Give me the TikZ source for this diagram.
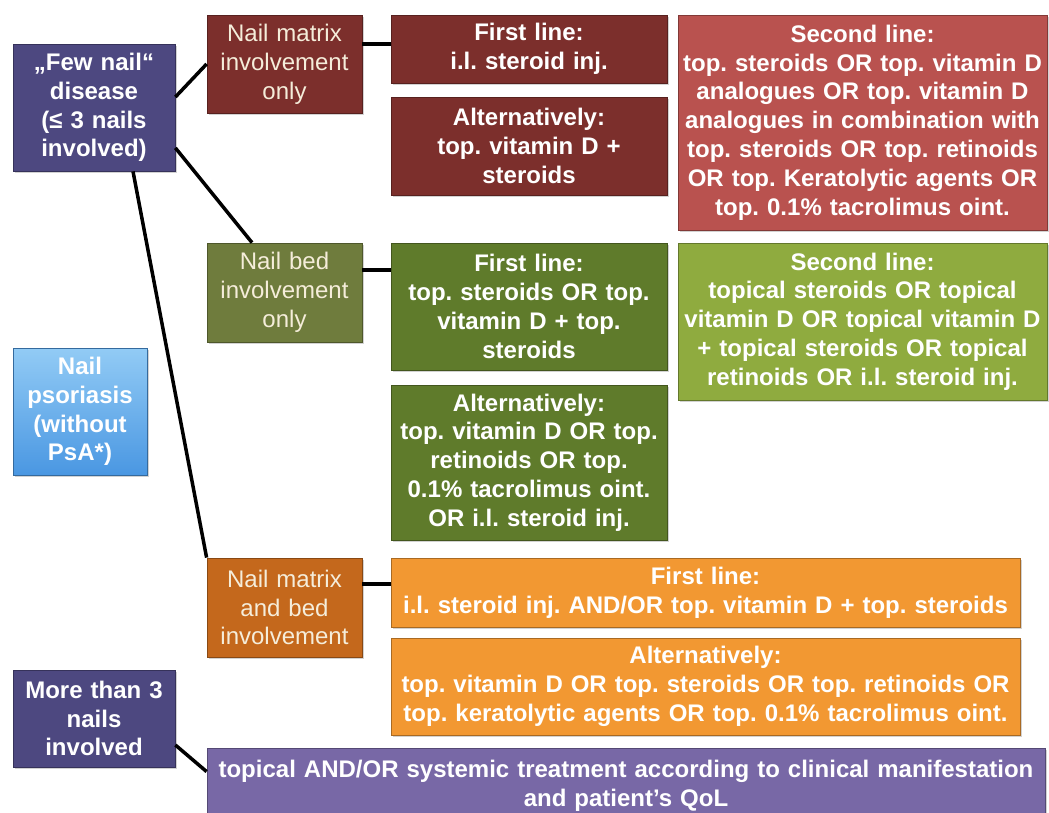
\documentclass[tikz,border=0pt]{standalone}
\usepackage{fontspec}
\setmainfont{Liberation Sans}
\frenchspacing
\usetikzlibrary{shadows}
\definecolor{cPurple}{HTML}{4D4880}
\definecolor{cTopical}{HTML}{7868A6}
\definecolor{cRedDark}{HTML}{7C2F2C}
\definecolor{cRedLight}{HTML}{B9524F}
\definecolor{cOlive}{HTML}{6F7C3D}
\definecolor{cGreenDark}{HTML}{5F7B2B}
\definecolor{cGreenLight}{HTML}{8FAB3F}
\definecolor{cBlueTop}{HTML}{92CBF5}
\definecolor{cBlueBot}{HTML}{4A97E2}
\definecolor{cOrangeDark}{HTML}{C4681C}
\definecolor{cOrange}{HTML}{F29832}
\definecolor{cCream}{HTML}{F5EDDA}
\begin{document}
\begin{tikzpicture}[x=1pt,y=-1pt,
  basebox/.style={rectangle, line width=0.8pt, align=center, inner xsep=2pt, inner ysep=2pt,
    drop shadow={opacity=0.35,shadow xshift=2pt,shadow yshift=-2pt}},
  box/.style={basebox, draw=#1!70!black, fill=#1, text=white,
    font=\fontsize{24}{28.8}\selectfont\bfseries},
  cat/.style={basebox, draw=#1!70!black, fill=#1, text=cCream,
    font=\fontsize{24}{28.8}\selectfont},
  conn/.style={line width=3.5pt, black}]
\path[use as bounding box, clip] (0,0) rectangle (1049,812);
\fill[white] (0,0) rectangle (1049,812);

% left column
\node[box=cPurple, minimum width=162pt, text width=158pt, minimum height=127pt] (few) at (94,107.5)
  {„Few nail“\\disease\\(≤ 3 nails\\involved)};
\node[basebox, draw=cBlueBot!70!black, top color=cBlueTop, bottom color=cBlueBot, text=white,
  font=\fontsize{24}{28.8}\selectfont\bfseries,
  minimum width=134pt, text width=130pt, minimum height=127pt] (psor) at (80,411.5)
  {Nail\\psoriasis\\(without\\PsA*)};
\node[box=cPurple, minimum width=162pt, text width=158pt, minimum height=97pt] (more) at (94,718.5)
  {More than 3\\nails\\involved};

% categories
\node[cat=cRedDark, minimum width=155pt, text width=151pt, minimum height=98pt] (matrix) at (284.5,64)
  {Nail matrix\\involvement\\only};
\node[cat=cOlive, minimum width=155pt, text width=151pt, minimum height=99pt] (bed) at (284.5,292.5)
  {Nail bed\\involvement\\only};
\node[cat=cOrangeDark, minimum width=155pt, text width=151pt, minimum height=99pt] (mb) at (284.5,607.5)
  {Nail matrix\\and bed\\involvement};

% red group
\node[box=cRedDark, minimum width=276pt, text width=272pt, minimum height=68pt] (fl1) at (529,49)
  {First line:\\i.l. steroid inj.};
\node[box=cRedDark, minimum width=276pt, text width=272pt, minimum height=98pt] (alt1) at (529,146)
  {Alternatively:\\top. vitamin D +\\steroids};
\node[box=cRedLight, minimum width=369pt, text width=365pt, minimum height=215pt] (sl1) at (862.5,122.5)
  {Second line:\\top. steroids OR top. vitamin D\\analogues OR top. vitamin D\\analogues in combination with\\top. steroids OR top. retinoids\\OR top. Keratolytic agents OR\\top. 0.1\% tacrolimus oint.};

% green group
\node[box=cGreenDark, minimum width=276pt, text width=272pt, minimum height=127pt] (fl2) at (529,306.5)
  {First line:\\top. steroids OR top.\\vitamin D + top.\\steroids};
\node[box=cGreenLight, minimum width=369pt, text width=365pt, minimum height=157pt] (sl2) at (862.5,321.5)
  {Second line:\\topical steroids OR topical\\vitamin D OR topical vitamin D\\+ topical steroids OR topical\\retinoids OR i.l. steroid inj.};
\node[box=cGreenDark, minimum width=276pt, text width=272pt, minimum height=155pt] (alt2) at (529,462.5)
  {Alternatively:\\top. vitamin D OR top.\\retinoids OR top.\\0.1\% tacrolimus oint.\\OR i.l. steroid inj.};

% orange group
\node[box=cOrange, minimum width=629pt, text width=625pt, minimum height=69pt] (fl3) at (705.5,592.5)
  {First line:\\i.l. steroid inj. AND/OR top. vitamin D + top. steroids};
\node[box=cOrange, minimum width=629pt, text width=625pt, minimum height=97pt] (alt3) at (705.5,686.5)
  {Alternatively:\\top. vitamin D OR top. steroids OR top. retinoids OR\\top. keratolytic agents OR top. 0.1\% tacrolimus oint.};

% bottom
\node[box=cTopical, minimum width=838pt, text width=834pt, minimum height=76pt] (topical) at (626,786)
  {topical AND/OR systemic treatment according to clinical manifestation\\and patient's QoL};

% connectors
\draw[conn] ([yshift=10.5pt]few.east) -- (matrix.west);
\draw[conn] ([yshift=23.5pt]few.south east) -- ([xshift=-32.5pt]bed.north);
\draw[conn] ([xshift=39pt]few.south) -- (mb.north west);
\draw[conn] ([yshift=20pt]matrix.east) -- ([yshift=5pt]fl1.west);
\draw[conn] ([yshift=22.5pt]bed.east) -- ([yshift=36.5pt]fl2.west);
\draw[conn] ([yshift=23.5pt]mb.east) -- ([yshift=8.5pt]fl3.west);
\draw[conn] ([yshift=-26.5pt]more.east) -- ([yshift=-24pt]topical.north west);
\end{tikzpicture}
\end{document}
